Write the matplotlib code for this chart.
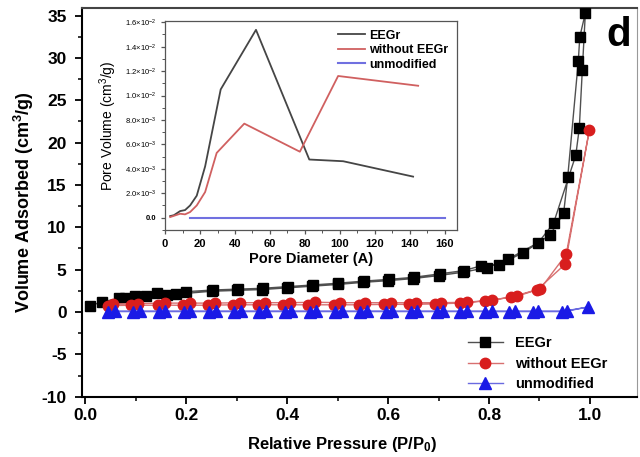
import matplotlib
matplotlib.use("Agg")
import matplotlib.pyplot as plt
from matplotlib.ticker import MultipleLocator, FixedLocator, FixedFormatter

plt.rcParams['font.family'] = ['Liberation Sans', 'DejaVu Sans']
plt.rcParams['mathtext.fontset'] = 'custom'
plt.rcParams['mathtext.rm'] = 'Liberation Sans'
plt.rcParams['mathtext.bf'] = 'Liberation Sans:bold'
plt.rcParams['mathtext.it'] = 'Liberation Sans:italic'
plt.rcParams['axes.unicode_minus'] = False

# ---------------- main isotherm data ----------------
eegr_ads_p = [0.010, 0.033, 0.067, 0.099, 0.161, 0.179, 0.250, 0.300, 0.350, 0.400, 0.450,
              0.500, 0.550, 0.600, 0.650, 0.700, 0.749, 0.796, 0.838, 0.898, 0.928, 0.972,
              0.979, 0.985, 0.991]
eegr_ads_v = [0.75, 1.20, 1.60, 1.85, 2.00, 2.10, 2.45, 2.55, 2.65, 2.85, 3.05,
              3.25, 3.50, 3.70, 3.95, 4.30, 4.70, 5.25, 6.25, 8.20, 10.5, 18.5,
              21.7, 28.6, 35.3]
eegr_des_p = [0.980, 0.977, 0.956, 0.948, 0.921, 0.868, 0.819, 0.784, 0.751, 0.702, 0.651,
              0.601, 0.552, 0.501, 0.452, 0.402, 0.351, 0.302, 0.253, 0.200, 0.141, 0.120,
              0.078]
eegr_des_v = [32.5, 29.6, 15.9, 11.7, 9.1, 7.0, 5.6, 5.45, 4.9, 4.5, 4.1,
              3.85, 3.65, 3.4, 3.2, 3.0, 2.8, 2.7, 2.6, 2.4, 2.2, 1.9,
              1.7]

wo_ads_p = [0.045, 0.091, 0.144, 0.194, 0.243, 0.292, 0.342, 0.392, 0.442, 0.492, 0.542,
            0.592, 0.642, 0.692, 0.743, 0.792, 0.843, 0.896, 0.951, 0.999]
wo_ads_v = [0.75, 0.80, 0.80, 0.80, 0.80, 0.85, 0.85, 0.85, 0.85, 0.85, 0.85,
            0.90, 0.90, 0.95, 1.05, 1.30, 1.75, 2.65, 5.65, 21.5]
wo_des_p = [0.953, 0.902, 0.855, 0.805, 0.756, 0.705, 0.655, 0.605, 0.555, 0.505, 0.455,
            0.405, 0.355, 0.306, 0.256, 0.207, 0.157, 0.104, 0.055]
wo_des_v = [6.8, 2.75, 1.85, 1.40, 1.15, 1.10, 1.10, 1.10, 1.10, 1.10, 1.15,
            1.10, 1.10, 1.10, 1.05, 1.05, 1.05, 1.00, 0.95]

un_ads_p = [0.045, 0.095, 0.145, 0.195, 0.245, 0.295, 0.345, 0.395, 0.445, 0.495, 0.545,
            0.595, 0.645, 0.696, 0.743, 0.792, 0.839, 0.888, 0.944, 0.997]
un_ads_v = [0.05] * 19 + [0.6]
un_des_p = [0.954, 0.898, 0.852, 0.806, 0.756, 0.709, 0.658, 0.608, 0.558, 0.508, 0.458,
            0.408, 0.358, 0.308, 0.258, 0.208, 0.158, 0.108, 0.058]
un_des_v = [0.1] * 19

# ---------------- inset pore distribution data ----------------
pd_eegr_x = [2.9, 5.0, 8.6, 11.4, 14.3, 18.1, 22.9, 31.8, 52.0, 82.5, 101.9, 141.9]
pd_eegr_y = [0.00013, 0.0002, 0.00054, 0.00062, 0.0010, 0.0018, 0.0042, 0.0105, 0.01538,
             0.00476, 0.00462, 0.00336]
pd_wo_x = [2.9, 8.6, 11.4, 14.3, 18.1, 22.9, 29.5, 45.3, 77.1, 99.0, 144.8]
pd_wo_y = [0.00005, 0.00032, 0.00027, 0.00046, 0.0010, 0.0021, 0.0053, 0.0077, 0.0054,
           0.0116, 0.0108]
pd_un_x = [14.0, 160.0]
pd_un_y = [0.0, 0.0]

main_xticks = [0.0, 0.2, 0.4, 0.6, 0.8, 1.0]
main_xticklabels = ['0.0', '0.2', '0.4', '0.6', '0.8', '1.0']
inset_yticks = [0.0, 0.002, 0.004, 0.006, 0.008, 0.010, 0.012, 0.014, 0.016]
inset_yticklabels = ['0.0', r'$2.0{\times}10^{-3}$', r'$4.0{\times}10^{-3}$', r'$6.0{\times}10^{-3}$',
                     r'$8.0{\times}10^{-3}$', r'$1.0{\times}10^{-2}$', r'$1.2{\times}10^{-2}$',
                     r'$1.4{\times}10^{-2}$', r'$1.6{\times}10^{-2}$']

fig = plt.figure(figsize=(6.4, 4.57), dpi=100)
ax = fig.add_axes([0.128, 0.132, 0.867, 0.8505])

blk_line = '#505050'
red_m = '#d81e1e'
red_line = '#d87070'
blue_m = '#1a1ae6'
blue_line = '#6a6ae0'

ax.plot(eegr_ads_p + eegr_des_p, eegr_ads_v + eegr_des_v, '-', color=blk_line, lw=1.0,
        marker='s', ms=6.5, mfc='black', mec='black', label='EEGr', zorder=3)
ax.plot(wo_ads_p + wo_des_p, wo_ads_v + wo_des_v, '-', color=red_line, lw=1.0,
        marker='o', ms=7.5, mfc=red_m, mec=red_m, label='without EEGr', zorder=3)
ax.plot(un_ads_p + un_des_p, un_ads_v + un_des_v, '-', color=blue_line, lw=1.0,
        marker='^', ms=8, mfc=blue_m, mec=blue_m, label='unmodified', zorder=3)

ax.set_xlim(-0.007, 1.093)
ax.set_ylim(-10, 35.9)
ax.set_xticks(main_xticks)
ax.set_xticklabels(main_xticklabels)
ax.xaxis.set_minor_locator(MultipleLocator(0.1))
ax.yaxis.set_major_locator(MultipleLocator(5))
ax.yaxis.set_minor_locator(MultipleLocator(2.5))
ax.tick_params(which='major', direction='out', length=5, width=1.3, labelsize=12.5)
ax.tick_params(axis='y', which='major', pad=6)
ax.tick_params(which='minor', direction='out', length=3, width=1.1)
for lab in ax.get_xticklabels() + ax.get_yticklabels():
    lab.set_fontweight('bold')
for s in ax.spines.values():
    s.set_linewidth(1.5)
ax.spines['top'].set_color('#444444')
ax.spines['right'].set_color('#999999')
ax.spines['right'].set_linewidth(0.8)

ax.set_xlabel(r'Relative Pressure (P/P$_\mathbf{0}$)', fontsize=12, fontweight='bold')
ax.xaxis.set_label_coords(0.469, -0.098)
ax.set_ylabel('Volume Adsorbed (cm$^\\mathbf{3}$/g)', fontsize=13, fontweight='bold', labelpad=4)

leg = ax.legend(loc='lower right', bbox_to_anchor=(0.97, -0.02), frameon=False,
                prop={'weight': 'bold', 'size': 10.5}, handlelength=2.4, labelspacing=0.45)

ax.text(0.99, 0.93, 'd', transform=ax.transAxes, fontsize=29, fontweight='bold',
        ha='right', va='center')

# ---------------- inset ----------------
ins = fig.add_axes([0.258, 0.497, 0.456, 0.457])
ins.plot(pd_eegr_x, pd_eegr_y, color='#454545', lw=1.3, label='EEGr')
ins.plot(pd_wo_x, pd_wo_y, color='#d06060', lw=1.3, label='without EEGr')
ins.plot(pd_un_x, pd_un_y, color='#7070e0', lw=1.5, label='unmodified')
ins.set_xlim(0, 167)
ins.set_ylim(-0.001, 0.0161)
ins.xaxis.set_major_locator(MultipleLocator(20))
ins.xaxis.set_minor_locator(MultipleLocator(10))
ins.yaxis.set_major_locator(FixedLocator(inset_yticks))
ins.yaxis.set_major_formatter(FixedFormatter(inset_yticklabels))
ins.yaxis.set_minor_locator(MultipleLocator(0.001))
ins.tick_params(which='major', direction='out', length=3, width=0.9, labelsize=8, color='#555555')
ins.tick_params(axis='y', which='major', labelsize=5.5)
ins.tick_params(which='minor', direction='out', length=2, width=0.7, color='#555555')
for lab in ins.get_xticklabels() + ins.get_yticklabels():
    lab.set_fontweight('bold')
for s in ins.spines.values():
    s.set_linewidth(0.9)
    s.set_color('#555555')
ins.set_xlabel('Pore Diameter (A)', fontsize=10.5, fontweight='bold', labelpad=2)
ins.set_ylabel('Pore Volume (cm$^3$/g)', fontsize=10, labelpad=4)
ins.legend(loc='upper right', bbox_to_anchor=(1.0, 1.0), frameon=False,
           prop={'weight': 'bold', 'size': 9}, handlelength=2.2, labelspacing=0.2,
           handletextpad=0.3, borderaxespad=0.3)

fig.savefig('out.png', dpi=100)
